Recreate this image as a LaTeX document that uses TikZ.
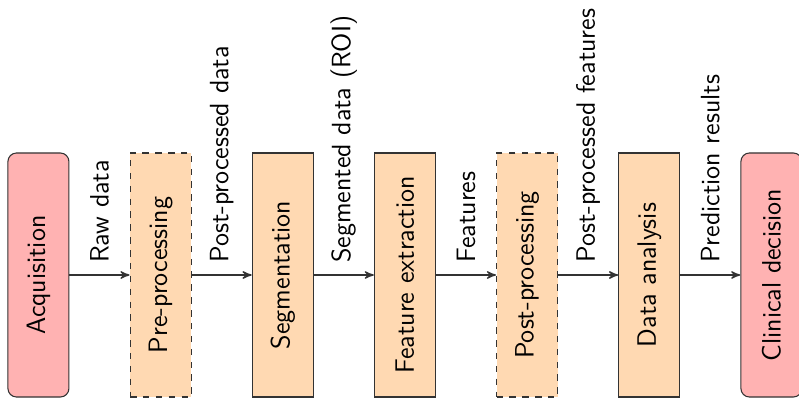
\documentclass[tikz,border=0pt]{standalone}
\usepackage{graphicx}
\usepackage{tikz}
\usetikzlibrary{calc,positioning,arrows}

\begin{document}
\begin{tikzpicture}[node distance=0.985cm,auto,>=stealth',font=\sffamily\fontsize{12.4}{14}\selectfont,
		stage/.style={draw=black!80, fill=orange!30, line width=0.5pt, minimum width=1cm, minimum height=4cm, inner sep=0pt},
		optstage/.style={stage, dashed},
		endpoint/.style={stage, fill=red!30, rounded corners},
		flow/.style={->, black!80, line width=0.6pt},
		flowlabel/.style={midway, anchor=south, inner sep=1.9mm, black}]
	% picture frame
	\useasboundingbox (-0.63,-2) rectangle (12.468,4.508);

	\node[endpoint] at (0,0) (acq) {\rotatebox{90}{Acquisition}};
	\node[optstage, right = of acq] (prep) {\rotatebox{90}{Pre-processing}};
	\node[stage, right = of prep] (seg) {\rotatebox{90}{Segmentation}};
	\node[stage, right = of seg] (featex) {\rotatebox{90}{Feature extraction}};
	\node[optstage, right = of featex] (postp) {\rotatebox{90}{Post-processing}};
	\node[stage, right = of postp] (analysis) {\rotatebox{90}{Data analysis}};
	\node[endpoint, right = of analysis] (clinic) {\rotatebox{90}{Clinical decision}};

	% arrows between stages
	\draw[flow] (acq) -- node[flowlabel]{\rotatebox{90}{Raw data}} (prep);
	\draw[flow] (prep) -- node[flowlabel]{\rotatebox{90}{Post-processed data}} (seg);
	\draw[flow] (seg) -- node[flowlabel]{\rotatebox{90}{Segmented data (ROI)}} (featex);
	\draw[flow] (featex) -- node[flowlabel]{\rotatebox{90}{Features}} (postp);
	\draw[flow] (postp) -- node[flowlabel]{\rotatebox{90}{Post-processed features}} (analysis);
	\draw[flow] (analysis) -- node[flowlabel]{\rotatebox{90}{Prediction results}} (clinic);
\end{tikzpicture}
\end{document}
